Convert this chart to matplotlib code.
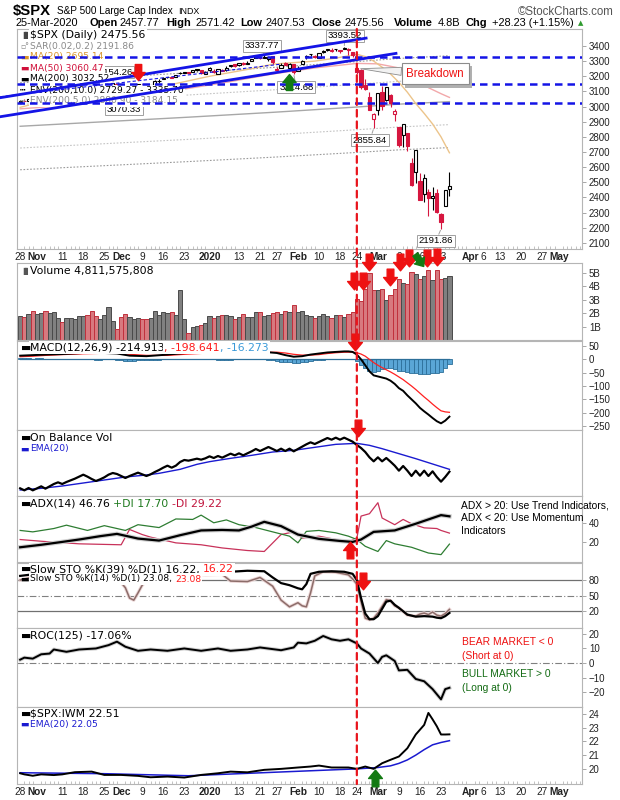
import matplotlib
matplotlib.use("Agg")
import matplotlib.pyplot as plt
import matplotlib.patheffects as pe
from matplotlib.patches import Rectangle, ConnectionPatch
from matplotlib.path import Path
from matplotlib.transforms import Affine2D
import numpy as np

plt.rcParams['font.family'] = ['Liberation Sans', 'DejaVu Sans']

# trading day index: 0 = 28-Oct-2019 ... 102 = 25-Mar-2020
opens = [3032.12, 3035.39, 3039.74, 3046.90, 3050.72, 3078.96, 3080.80, 3075.10, 3087.02, 3081.25,
         3080.33, 3089.28, 3084.18, 3090.75, 3107.92, 3117.91, 3127.45, 3114.66, 3108.49, 3111.41,
         3117.44, 3134.85, 3145.49, 3147.18, 3143.85, 3087.41, 3103.50, 3119.21, 3134.62, 3141.86,
         3135.36, 3135.75, 3141.23, 3166.65, 3183.63, 3195.40, 3195.21, 3192.32, 3223.33, 3226.05,
         3225.45, 3227.20, 3247.23, 3240.09, 3215.18, 3244.67, 3226.36, 3217.55, 3241.86, 3238.59,
         3266.03, 3281.81, 3271.13, 3285.35, 3282.27, 3302.97, 3323.66, 3321.03, 3330.02, 3315.77,
         3333.10, 3247.16, 3255.35, 3289.46, 3256.45, 3282.33, 3235.66, 3280.61, 3324.91, 3344.92,
         3335.54, 3318.28, 3365.87, 3370.50, 3365.90, 3378.08, 3369.04, 3380.39, 3380.45, 3360.50,
         3257.61, 3238.94, 3139.90, 3062.54, 2916.90, 2974.28, 3096.46, 3045.75, 3075.70, 2954.20,
         2863.89, 2813.48, 2825.60, 2630.86, 2569.99, 2508.59, 2425.66, 2436.50, 2393.48, 2431.94,
         2290.71, 2344.44, 2457.77]
highs = [3044.08, 3047.87, 3050.10, 3046.90, 3066.95, 3085.20, 3083.95, 3078.34, 3097.77, 3093.09,
         3088.33, 3102.61, 3098.06, 3098.20, 3120.46, 3124.17, 3127.64, 3118.97, 3110.11, 3112.87,
         3133.83, 3142.69, 3154.26, 3150.30, 3144.31, 3094.97, 3119.38, 3119.45, 3150.60, 3148.87,
         3142.12, 3143.98, 3176.28, 3182.68, 3197.71, 3198.22, 3198.48, 3205.48, 3225.65, 3227.78,
         3226.43, 3240.08, 3247.93, 3240.92, 3231.72, 3258.14, 3246.15, 3246.84, 3244.91, 3267.07,
         3275.58, 3282.99, 3288.13, 3294.25, 3298.66, 3317.11, 3329.88, 3329.79, 3337.77, 3326.88,
         3333.18, 3258.85, 3285.78, 3293.47, 3285.91, 3282.33, 3268.44, 3306.92, 3337.58, 3347.96,
         3341.42, 3352.26, 3375.63, 3381.47, 3385.09, 3380.69, 3375.01, 3393.52, 3389.15, 3360.76,
         3259.81, 3246.99, 3182.51, 3097.07, 2959.72, 3090.96, 3136.72, 3130.97, 3083.04, 2985.93,
         2863.89, 2882.59, 2825.60, 2660.95, 2711.33, 2562.98, 2553.93, 2453.57, 2466.97, 2453.01,
         2300.73, 2449.71, 2571.42]
lows = [3032.12, 3034.81, 3025.96, 3023.19, 3050.72, 3074.87, 3072.15, 3065.89, 3080.23, 3073.58,
        3075.82, 3084.73, 3078.80, 3083.26, 3104.60, 3112.06, 3113.47, 3091.41, 3094.55, 3099.26,
        3117.44, 3131.00, 3143.41, 3139.34, 3110.78, 3070.33, 3102.53, 3103.76, 3134.62, 3135.46,
        3126.09, 3133.21, 3138.47, 3156.51, 3183.63, 3191.03, 3191.14, 3192.32, 3216.03, 3222.30,
        3220.51, 3227.20, 3234.37, 3216.57, 3212.03, 3235.53, 3222.34, 3214.64, 3232.43, 3236.67,
        3263.67, 3260.86, 3268.43, 3277.19, 3280.69, 3302.82, 3318.86, 3316.61, 3320.04, 3301.87,
        3281.53, 3234.50, 3253.22, 3271.89, 3242.80, 3214.68, 3235.66, 3280.61, 3313.75, 3334.39,
        3322.12, 3317.77, 3352.72, 3369.72, 3360.52, 3366.15, 3355.61, 3378.83, 3341.02, 3328.45,
        3214.65, 3118.77, 3108.99, 2977.39, 2855.84, 2945.19, 2976.63, 3034.38, 2999.83, 2901.54,
        2734.43, 2734.00, 2707.22, 2478.86, 2492.37, 2380.94, 2367.04, 2280.52, 2319.78, 2295.56,
        2191.86, 2344.44, 2407.53]
closes = [3039.42, 3036.89, 3046.77, 3037.56, 3066.91, 3078.27, 3074.62, 3076.78, 3085.18, 3093.08,
          3087.01, 3091.84, 3094.04, 3096.63, 3120.46, 3122.03, 3120.18, 3108.46, 3103.54, 3110.29,
          3133.64, 3140.52, 3153.63, 3140.98, 3113.87, 3093.20, 3112.76, 3117.43, 3145.91, 3135.96,
          3132.52, 3141.63, 3168.57, 3168.80, 3191.45, 3192.52, 3191.14, 3205.37, 3221.22, 3224.01,
          3223.38, 3239.91, 3240.02, 3221.29, 3230.78, 3257.85, 3234.85, 3246.28, 3237.18, 3253.05,
          3274.70, 3265.35, 3288.13, 3283.15, 3289.29, 3316.81, 3329.62, 3320.79, 3321.75, 3325.54,
          3295.47, 3243.63, 3276.24, 3273.40, 3283.66, 3225.52, 3248.92, 3297.59, 3334.69, 3345.78,
          3327.71, 3352.09, 3357.75, 3379.45, 3373.94, 3380.16, 3370.29, 3386.15, 3373.23, 3337.75,
          3225.89, 3128.21, 3116.39, 2978.76, 2954.22, 3090.23, 3003.37, 3130.12, 3023.94, 2972.37,
          2746.56, 2882.23, 2741.38, 2480.64, 2711.02, 2386.13, 2529.19, 2398.10, 2409.39, 2304.92,
          2237.40, 2447.33, 2475.56]
prev_close = 3022.55

# volume, billions
volume = [1.82, 1.74, 1.97, 2.19, 1.92, 2.04, 2.19, 1.99, 2.11, 1.67,
          1.37, 1.67, 1.67, 1.59, 1.82, 1.82, 1.89, 2.19, 1.82, 1.59,
          1.89, 2.49, 1.44, 0.85, 1.74, 1.97, 1.74, 1.59, 1.67, 1.59,
          1.59, 1.67, 2.19, 1.89, 2.11, 1.99, 2.11, 1.89, 3.71, 1.59,
          0.55, 1.00, 1.07, 1.14, 1.29, 1.82, 1.67, 1.82, 1.89, 1.89,
          1.77, 1.57, 1.72, 1.92, 1.72, 1.72, 2.06, 2.06, 1.77, 1.87,
          1.99, 2.06, 1.92, 2.14, 2.06, 2.59, 2.06, 2.14, 1.84, 1.77,
          1.62, 1.77, 1.92, 1.77, 1.62, 1.84, 1.84, 1.69, 1.92, 2.06,
          3.06, 2.89, 3.78, 4.98, 3.73, 3.75, 3.78, 2.99, 3.36, 3.78,
          4.55, 4.23, 4.15, 5.05, 4.90, 4.55, 4.75, 5.22, 4.48, 5.22,
          4.55, 4.60, 4.81]

# price overlays (read at knots)
ma20_days = [0, 5, 10, 15, 20, 25, 30, 35, 40, 45, 50, 55, 60, 65, 70, 75, 80, 82, 84, 86, 88, 90, 92, 94, 96, 98, 100, 102]
ma20 = [2995, 3030, 3060, 3080, 3100, 3115, 3125, 3140, 3170, 3200, 3225, 3250, 3280, 3290, 3300, 3320, 3345, 3330,
        3300, 3260, 3215, 3160, 3095, 3020, 2955, 2885, 2800, 2695.14]
ma50_days = [0, 10, 20, 30, 40, 50, 60, 70, 80, 85, 90, 95, 97, 100, 102]
ma50 = [2985, 3005, 3040, 3080, 3120, 3165, 3215, 3255, 3285, 3282, 3255, 3190, 3125, 3085, 3060.47]
ma200_days = [0, 20, 40, 60, 80, 90, 102]
ma200 = [2870, 2900, 2930, 2962, 2997, 3016, 3032.52]

# MACD(12,26,9)
macd_days = [0, 3, 6, 10, 15, 20, 23, 26, 30, 35, 40, 45, 50, 55, 58, 61, 63, 65, 67, 69, 71, 73, 75, 77,
             78, 79, 80, 81, 82, 83, 84, 85, 86, 87, 88, 89, 90, 91, 92, 93, 94, 95, 96, 97, 98, 99, 100, 101, 102]
macd = [14, 16, 18, 20, 24, 24, 22, 14, 12, 18, 25, 27, 24, 27, 28, 24, 16, 10, 12, 18, 22, 26, 28, 30,
        30, 28, 18, 0, -22, -45, -60, -64, -68, -72, -80, -92, -108, -118, -135, -150, -165, -182, -195,
        -207, -220, -232, -240, -230, -214.9]
signal = [10, 12, 15, 18, 21, 23, 23, 19, 15, 15, 20, 24, 25, 25, 26, 27, 24, 19, 16, 16, 18, 22, 25, 27,
          27, 27, 25, 20, 12, 0, -12, -22, -31, -39, -47, -56, -66, -76, -88, -100, -113, -127, -141,
          -154, -168, -181, -193, -197, -198.6]
macd_hist = [4, 4, 4, 3, 4, 4, 3, 3, 2, 2,
             1, 1, 1, 1, 2, 2, 1, 0, -1, -1,
             0, 1, 2, -2, -4, -6, -6, -5, -4, -4,
             -4, -3, -2, -1, 0, 1, 2, 2, 2, 3,
             3, 2, 2, 1, 1, 0, 0, -2, -3, -3,
             -1, 0, 0, 1, 1, 2, 2, 2, 1, -1,
             -3, -6, -8, -10, -11, -12, -12, -10, -8, -6,
             -4, -2, -1, 0, 1, 1, 2, 2, 2, 0,
             -7, -20, -34, -45, -48, -42, -37, -33, -33, -36,
             -42, -42, -47, -50, -52, -55, -54, -53, -52, -51,
             -47, -33, -16]

# On Balance Volume (relative units) and its EMA(20)
obv = [23, 17, 24, 17, 23, 29, 22, 29, 36, 41,
       36, 42, 47, 52, 58, 64, 58, 51, 45, 50,
       56, 64, 69, 66, 60, 54, 60, 65, 70, 65,
       60, 65, 72, 78, 85, 91, 85, 91, 102, 108,
       106, 109, 112, 109, 113, 119, 114, 120, 115, 121,
       127, 122, 128, 122, 128, 134, 141, 135, 141, 147,
       141, 135, 142, 135, 142, 134, 141, 148, 155, 161,
       156, 162, 168, 174, 169, 175, 169, 175, 169, 163,
       153, 144, 132, 116, 104, 116, 104, 114, 103, 91,
       76, 90, 76, 60, 76, 61, 76, 60, 74, 57,
       43, 57, 73]
obv_ema_days = [0, 5, 10, 15, 20, 25, 30, 33, 38, 42, 45, 50, 55, 60, 65, 70, 75, 80, 83, 86, 90, 94, 98, 102]
obv_ema = [18, 23, 30, 39, 48, 57, 63, 68, 80, 95, 103, 113, 122, 132, 137, 146, 155, 158, 152, 142, 127, 112, 96, 80]

# ADX(14)
adx_days = [0, 5, 10, 14, 19, 23, 28, 33, 38, 43, 48, 52, 55, 58, 62, 66, 71, 76, 79, 81, 84, 89, 94, 98, 100, 102]
adx = [14.4, 17, 20, 22.5, 26, 28.4, 23.5, 21.4, 27, 32, 32.5, 32, 36, 41, 36.5, 27.7, 23.2, 21, 20, 22.5,
       30.5, 32, 39, 45, 48, 46.76]
pdi_days = [0, 3, 8, 11, 16, 20, 25, 28, 33, 37, 41, 43, 46, 49, 52, 56, 60, 64, 66, 68, 71, 75, 78, 80,
            82, 85, 87, 89, 93, 97, 100, 102]
pdi = [32, 30.5, 34, 37.5, 32, 37, 32, 38, 35, 44, 43.5, 48, 40, 43, 38, 35, 30.5, 26, 19, 31, 32, 29.5, 26,
       22.5, 15.4, 10, 21.4, 18, 14.4, 8.4, 6.7, 17.7]
mdi_days = [0, 5, 14, 24, 26, 29, 31, 37, 43, 48, 54, 58, 62, 65, 67, 71, 75, 78, 80, 81, 83, 85, 86, 89,
            91, 93, 96, 99, 100, 102]
mdi = [22.5, 20.7, 18, 17, 33, 27.7, 25, 19, 17, 13.7, 11, 10, 27.7, 30.5, 24, 26, 22.5, 20, 24, 47, 49.5,
       61, 45, 38, 43.5, 39, 34.7, 34, 32, 29.22]

# Slow stochastics
sto39_days = [0, 5, 10, 15, 20, 23, 25, 27, 29, 32, 35, 40, 45, 50, 54, 58, 60, 62, 64, 66, 67, 68, 69, 71,
              74, 77, 79, 80, 81, 82, 83, 84, 85, 87, 88, 89, 90, 92, 94, 96, 98, 99, 100, 101, 102]
sto39 = [88, 93, 95, 97, 94, 96, 82, 76, 84, 92, 97, 98, 97, 96, 98, 97, 85, 74, 70, 64, 62, 72, 92, 96,
         97, 96, 92, 80, 45, 15, 4, 4, 10, 38, 40, 32, 26, 13, 9, 10, 9, 7, 6, 10, 16.22]
sto14_days = [0, 5, 10, 15, 20, 23, 24, 25, 26, 27, 28, 29, 31, 35, 40, 44, 48, 50, 54, 57, 60, 62, 64, 66,
              67, 68, 69, 70, 72, 75, 78, 79, 80, 81, 82, 83, 84, 85, 87, 88, 89, 90, 92, 94, 95, 96, 97,
              98, 99, 100, 101, 102]
sto14 = [80, 90, 88, 92, 85, 88, 75, 65, 45, 41, 55, 70, 86, 95, 93, 90, 91, 78, 77, 85, 68, 41, 28, 36,
         30, 28, 55, 88, 96, 95, 90, 82, 72, 38, 6, 3, 6, 16, 42, 40, 30, 26, 12, 10, 14, 16, 13, 18, 12,
         10, 15, 23.08]

# ROC(125)
roc_days = [0, 1, 3, 5, 7, 8, 11, 14, 18, 21, 23, 25, 28, 31, 35, 39, 43, 47, 50, 54, 57, 62, 65, 66, 68,
            70, 72, 74, 76, 78, 80, 81, 83, 85, 86, 87, 89, 90, 92, 94, 96, 98, 100, 101, 102]
roc = [2.3, 3.7, 3, 6, 6.5, 9.3, 7.7, 9.3, 10, 12.3, 14.7, 11.2, 8.4, 9.3, 8.4, 10, 8.4, 10, 8.4, 9.3, 10.7,
       8.8, 10.7, 14, 13.5, 15.3, 18.6, 16.3, 15.3, 16.3, 13.5, 10, 6.5, 0, 4.2, 5.3, 1.4, -5.1, -4.7, -11,
       -12.6, -18, -25, -18, -17.06]

# $SPX:IWM ratio and EMA(20)
iwm_days = [0, 1, 3, 5, 8, 10, 13, 17, 20, 24, 28, 31, 35, 39, 43, 47, 50, 54, 58, 62, 66, 69, 71, 74, 78,
            80, 82, 84, 86, 88, 90, 92, 94, 96, 97, 98, 99, 100, 101, 102]
iwm = [19.68, 19.6, 19.5, 19.6, 19.55, 19.6, 19.76, 19.8, 19.56, 19.56, 19.49, 19.39, 19.44, 19.37, 19.56,
       19.68, 19.8, 19.75, 19.93, 20.0, 20.1, 20.17, 20.24, 20.1, 20.1, 20.0, 20.17, 20.0, 20.41, 20.66,
       20.9, 21.5, 22.5, 23.2, 24.07, 23.6, 23.1, 22.5, 22.5, 22.51]
iwm_ema_days = [0, 20, 40, 60, 80, 85, 88, 90, 92, 94, 96, 98, 100, 102]
iwm_ema = [19.72, 19.65, 19.5, 19.75, 20.0, 20.1, 20.22, 20.4, 20.65, 21.0, 21.4, 21.75, 21.92, 22.05]

tick_days = [0, 4, 10, 15, 20, 24, 29, 34, 39, 45, 52, 57, 61, 66, 71, 76, 80, 85, 90, 95, 100,
             107, 110, 114, 119, 124, 128]
tick_labels = ['28', 'Nov', '11', '18', '25', 'Dec', '9', '16', '23', '2020', '13', '21', '27', 'Feb',
               '10', '18', '24', 'Mar', '9', '16', '23', 'Apr', '6', '13', '20', '27', 'May']
bold_labels = {'Nov', 'Dec', '2020', 'Feb', 'Mar', 'Apr', 'May'}

days = np.arange(len(closes))
RED = '#d6163f'

W, H = 620, 800
fig = plt.figure(figsize=(W / 100, H / 100), dpi=100)
renderer = fig.canvas.get_renderer()


def panel(top, bottom, ylim):
    ax = fig.add_axes([17 / W, 1 - bottom / H, 565 / W, (bottom - top) / H])
    ax.set_xlim(-0.75, 133.5)
    ax.set_ylim(*ylim)
    for s in ax.spines.values():
        s.set_color('#b5b5b5')
        s.set_linewidth(0.8)
    ax.yaxis.tick_right()
    ax.tick_params(axis='y', direction='out', length=3, width=0.6, color='#999999',
                   labelsize=7, pad=2, labelcolor='#222222')
    ax.tick_params(axis='x', which='both', bottom=False, labelbottom=False)
    return ax


def date_axis(ax):
    ax.set_xticks(tick_days)
    ax.set_xticklabels(tick_labels)
    ax.set_xticks(np.arange(0, 134), minor=True)
    ax.tick_params(axis='x', which='major', bottom=True, labelbottom=True, length=0, pad=2.5,
                   labelsize=7.3, labelcolor='#222222')
    ax.tick_params(axis='x', which='minor', bottom=True, direction='in', length=2.2, width=0.5,
                   color='#aaaaaa')
    for lab in ax.get_xticklabels():
        if lab.get_text() in bold_labels:
            lab.set_fontweight('bold')


def legend(ax, dy, parts, size=7.8, dx=13, mark=None, mark_size=None, box=True):
    if mark is not None:
        ax.annotate(mark[0], xy=(0, 1), xycoords='axes fraction', xytext=(3, dy),
                    textcoords='offset pixels', ha='left', va='center', color=mark[1],
                    fontsize=mark_size or size, family='DejaVu Sans', zorder=6.5,
                    annotation_clip=False)
    x = dx
    for txt, col in parts:
        t = ax.annotate(txt, xy=(0, 1), xycoords='axes fraction', xytext=(x, dy),
                        textcoords='offset pixels', ha='left', va='center', color=col,
                        fontsize=size, family='DejaVu Sans', zorder=6, annotation_clip=False,
                        bbox=dict(boxstyle='square,pad=0.12', fc='white', ec='none') if box else None)
        x += t.get_window_extent(renderer).width


def note(ax, dx, dy, txt, col, size=7.4):
    ax.annotate(txt, xy=(1, 1), xycoords='axes fraction', xytext=(dx, dy), textcoords='offset pixels',
                ha='left', va='center', color=col, fontsize=size, zorder=6, annotation_clip=False)


down_arrow = Path([(-0.3, 0.75), (0.3, 0.75), (0.3, 0.0), (0.62, 0.0), (0.0, -0.75), (-0.62, 0.0),
                   (-0.3, 0.0), (-0.3, 0.75)],
                  [Path.MOVETO] + [Path.LINETO] * 6 + [Path.CLOSEPOLY])
up_arrow = Path(down_arrow.vertices * np.array([1, -1]), down_arrow.codes)
tilt_arrow = Affine2D().rotate_deg(35).transform_path(down_arrow)


def arrow(ax, x, y, path, color, size=12):
    ax.plot([x], [y], marker=path, markersize=size, color=color, markeredgecolor=color,
            linestyle='none', clip_on=False, zorder=9)


# ---------------- header ----------------
def px(x, y):
    return x / W, 1 - y / H


fig.text(*px(13, 11), '\\$SPX', fontsize=10.7, fontweight='bold', va='center')
title = fig.text(*px(57, 11.5), 'S&P 500 Large Cap Index', fontsize=7.2, va='center')
title_end = title.get_window_extent(renderer).x1
fig.text((title_end + 5) / W, 1 - 11.5 / H, 'INDX', fontsize=6.4, va='center')
fig.text(*px(614, 12), '\u00a9StockCharts.com', fontsize=8.3, va='center', ha='right', color='#555555')
head = [(15, '25-Mar-2020', 'normal'), (89, 'Open', 'bold'), (119, '2457.77', 'normal'),
        (166, 'High', 'bold'), (195, '2571.42', 'normal'), (240, 'Low', 'bold'),
        (265, '2407.53', 'normal'), (312, 'Close', 'bold'), (345, '2475.56', 'normal'),
        (394, 'Volume', 'bold'), (438, '4.8B', 'normal'), (466, 'Chg', 'bold'),
        (492, '+28.23 (+1.15%)', 'normal')]
for x, txt, wt in head:
    fig.text(*px(x, 22.5), txt, fontsize=7.9, fontweight=wt, va='center')
fig.text(*px(578, 23), '\u25b2', fontsize=5, va='center', color='#2e9a2e', family='DejaVu Sans')

# ---------------- price panel ----------------
ax_p = panel(29, 249, (2060, 3512))
ax_p.set_yticks(np.arange(2100, 3401, 100))
date_axis(ax_p)

env_base = np.array(ma200)
ax_p.plot(ma200_days, env_base * 1.10, color='#9a9a9a', lw=0.8, ls=(0, (1.5, 1.5)), zorder=2)
ax_p.plot(ma200_days, env_base * 0.90, color='#9a9a9a', lw=0.8, ls=(0, (1.5, 1.5)), zorder=2)
ax_p.plot(ma200_days, env_base * 1.05, color='#c4c4c4', lw=0.8, ls=(0, (1.5, 1.5)), zorder=2)
ax_p.plot(ma200_days, env_base * 0.95, color='#c4c4c4', lw=0.8, ls=(0, (1.5, 1.5)), zorder=2)
ax_p.plot(ma200_days, ma200, color='#a8a8a8', lw=1.0, zorder=2)
ax_p.plot(ma50_days, ma50, color='#f2a8aa', lw=1.0, zorder=2)
ax_p.plot(ma20_days, ma20, color='#ecc48a', lw=1.0, zorder=2)

for i in days:
    o, h, l, c = opens[i], highs[i], lows[i], closes[i]
    pc = closes[i - 1] if i > 0 else prev_close
    col = RED if c < pc else 'black'
    ax_p.vlines(i, l, h, color=col, lw=0.8, zorder=3)
    body = max(abs(c - o), 2.0)
    ax_p.add_patch(Rectangle((i - 0.38, min(o, c)), 0.76, body, facecolor=col if c < o else 'white',
                             edgecolor=col, lw=0.8, zorder=3.5))

tags = [('3337.77', 58, 3337.77, 57.5, 3400), ('3393.52', 77, 3393.52, 77.2, 3466),
        ('3154.26', 22, 3154.26, 22.6, 3228), ('3070.33', 25, 3070.33, 24.7, 2984),
        ('3214.68', 65, 3214.68, 65.6, 3129), ('2855.84', 84, 2855.84, 83.1, 2779),
        ('2191.86', 100, 2191.86, 98.8, 2113)]
for txt, x, y, tx, ty in tags:
    ax_p.annotate(txt, xy=(x, y), xytext=(tx, ty), ha='center', va='center', fontsize=6.8,
                  bbox=dict(boxstyle='square,pad=0.2', fc='white', ec='#a0a0a0', lw=0.7),
                  arrowprops=dict(arrowstyle='-', color='#a0a0a0', lw=0.7, shrinkA=0, shrinkB=1),
                  zorder=5)

legend(ax_p, -6.5, [('\\$SPX (Daily) 2475.56', 'black')], size=7.8, mark=('\u2590\u258c', '#444444'),
       mark_size=5)
legend(ax_p, -17.5, [('SAR(0.02,0.2) 2191.86', '#8a8a8a')], size=6.6, mark=('\u25ab\u00b0', '#8a8a8a'),
       mark_size=5.5)
legend(ax_p, -28, [('MA(20) 2695.14', '#d9952b')], size=6.6, mark=('\u25ac', '#d9952b'))
legend(ax_p, -39, [('MA(50) 3060.47', '#d0103a')], size=6.6, mark=('\u25ac', '#d0103a'))
legend(ax_p, -50, [('MA(200) 3032.52', 'black')], size=6.6, mark=('\u25ac', 'black'))
legend(ax_p, -61.5, [('ENV(200,10.0) 2729.27 - 3335.70', 'black')], size=6.6, mark=('\u2505', 'black'))
legend(ax_p, -72, [('ENV(200,5.0) 2880.90 - 3184.15', '#8a8a8a')], size=6.6, mark=('\u2505', '#8a8a8a'))

# trend channel and levels drawn on the chart
ax_p.plot([-4.75, 82.2], [3058.5, 3451.8], color='#1414e6', lw=2.0, clip_on=False, zorder=7)
ax_p.plot([-4.75, 89.3], [2933, 3351], color='#1414e6', lw=2.0, clip_on=False, zorder=7)
ax_p.plot([-4.75, 62], [3065, 3280], color='#1414e6', lw=0.8, ls=(0, (3, 2)), clip_on=False, zorder=7)
for lvl in (3330, 3147, 3025):
    ax_p.axhline(lvl, color='#1414e6', lw=1.8, ls=(0, (3, 2)), zorder=7)

brk = ax_p.annotate('Breakdown', xy=(80.9, 3250), xytext=(98.6, 3218), ha='center', va='center',
                    fontsize=8.3, color='#ee1111',
                    bbox=dict(boxstyle='square,pad=0.4', fc='white', ec='#8c8c8c', lw=0.8),
                    arrowprops=dict(arrowstyle='wedge,tail_width=0.7', fc='#f2f2f2', ec='#8c8c8c',
                                    lw=0.6, shrinkA=0, shrinkB=0),
                    zorder=8)
brk.get_bbox_patch().set_path_effects([pe.SimplePatchShadow(offset=(2.5, -2.5), shadow_rgbFace='#b0b0b0',
                                                            alpha=1.0), pe.Normal()])

arrow(ax_p, 27.9, 3225, down_arrow, '#ee1111', 11.5)
arrow(ax_p, 63.8, 3159, up_arrow, '#137a13', 11.5)

# ---------------- volume ----------------
ax_v = panel(263, 340, (0, 5.75))
ax_v.set_yticks([1, 2, 3, 4, 5])
ax_v.set_yticklabels(['1B', '2B', '3B', '4B', '5B'])
prev = [prev_close] + closes[:-1]
down = [c < p for c, p in zip(closes, prev)]
ax_v.bar(days, volume, width=1.0, color=['#d8797f' if d else '#808080' for d in down],
         edgecolor=['#c0303c' if d else '#4a4a4a' for d in down], linewidth=0.7, zorder=2)
legend(ax_v, -8, [('Volume 4,811,575,808', 'black')], mark=('\u2590\u258c', '#555555'), mark_size=5)
for x, y in [(79.3, 4.44), (81.5, 4.44), (82.9, 5.8), (87.9, 4.7), (90.3, 5.8), (92.4, 6.1),
             (96.7, 6.1), (99.0, 6.2)]:
    arrow(ax_v, x, y, down_arrow, '#ee1111', 12)
arrow(ax_v, 94.8, 5.95, tilt_arrow, '#137a13', 11)

# ---------------- MACD ----------------
ax_m = panel(341, 430, (-265, 69))
ax_m.set_yticks([50, 0, -50, -100, -150, -200, -250])
ax_m.bar(days, macd_hist, width=1.0, color='#5aa6d6', edgecolor='#2c6f99', linewidth=0.6, zorder=2)
ax_m.plot([days[0], days[-1]], [0, 0], color='#2c6f99', lw=0.9, zorder=2)
ax_m.plot(macd_days, signal, color='#ff2020', lw=0.9, zorder=3)
ax_m.plot(macd_days, macd, color='black', lw=1.4, zorder=3)
legend(ax_m, -6.5, [('MACD(12,26,9) -214.913', 'black'), (', -198.641', '#ff1a1a'),
                    (', -16.273', '#3b9ad9')], mark=('\u25ac', 'black'))
arrow(ax_m, 79.6, 67, down_arrow, '#ee1111', 12)

# ---------------- OBV ----------------
ax_o = panel(430, 496, (0, 198))
ax_o.set_yticks([])
ax_o.plot(obv_ema_days, obv_ema, color='#1a1ad0', lw=1.0, zorder=2)
ax_o.plot(days, obv, color='black', lw=1.6, zorder=3)
legend(ax_o, -7.7, [('On Balance Vol', 'black')], mark=('\u25ac', 'black'), box=False)
legend(ax_o, -19, [('EMA(20)', '#1a1ad0')], size=6.6, mark=('\u25ac', '#1a1ad0'), box=False)
arrow(ax_o, 80.3, 203, down_arrow, '#ee1111', 12)

# ---------------- ADX ----------------
ax_a = panel(496, 562, (-1, 68))
ax_a.set_yticks([20, 40])
ax_a.plot(mdi_days, mdi, color='#c8325a', lw=0.9, zorder=2)
ax_a.plot(pdi_days, pdi, color='#2e7d32', lw=0.9, zorder=2)
ax_a.plot(adx_days, adx, color='black', lw=1.6, zorder=3,
          path_effects=[pe.Stroke(linewidth=3.2, foreground='#cfcfcf'), pe.Normal()])
legend(ax_a, -8, [('ADX(14) 46.76 ', 'black'), ('+DI 17.70 ', '#1f7a1f'), ('-DI 29.22', '#c0143c')],
       mark=('\u25ac', 'black'), box=False)
note(ax_a, -121, -9, 'ADX > 20: Use Trend Indicators,', 'black')
note(ax_a, -121, -22, 'ADX < 20: Use Momentum', 'black')
note(ax_a, -121, -34.5, 'Indicators', 'black')
arrow(ax_a, 78.3, 11.4, up_arrow, '#ee1111', 12)

# ---------------- Slow STO ----------------
ax_s = panel(563, 628, (-13, 113))
ax_s.set_yticks([20, 50, 80])
ax_s.axhline(80, color='#707070', lw=0.9, zorder=1)
ax_s.axhline(20, color='#707070', lw=0.9, zorder=1)
ax_s.axhline(50, color='#808080', lw=0.8, ls=(0, (6, 2, 1, 2)), zorder=1)
ax_s.plot(sto14_days, sto14, color='#8c6d6a', lw=1.1, zorder=2,
          path_effects=[pe.Stroke(linewidth=2.4, foreground='#ecd6d6'), pe.Normal()])
ax_s.plot(sto39_days, sto39, color='black', lw=1.6, zorder=3)
legend(ax_s, -6.3, [('Slow STO %K(39) %D(1) 16.22, ', 'black'), ('16.22', '#ff1a1a')],
       mark=('\u25ac', 'black'))
legend(ax_s, -16, [('Slow STO %K(14) %D(1) 23.08, ', 'black'), ('23.08', '#ff1a1a')], size=6.6,
       mark=('\u25ac', 'black'))
arrow(ax_s, 81.5, 79, down_arrow, '#ee1111', 12)

# ---------------- ROC ----------------
ax_r = panel(628, 707, (-30.3, 24.1))
ax_r.set_yticks([-20, -10, 0, 10, 20])
ax_r.axhline(0, color='#808080', lw=0.8, ls=(0, (6, 2, 1, 2)), zorder=1)
ax_r.plot(roc_days, roc, color='black', lw=1.4, zorder=3,
          path_effects=[pe.Stroke(linewidth=2.8, foreground='#d0d0d0'), pe.Normal()])
legend(ax_r, -7.7, [('ROC(125) -17.06%', 'black')], mark=('\u25ac', 'black'), box=False)
note(ax_r, -120, -14, 'BEAR MARKET < 0', '#ee1111')
note(ax_r, -120, -28, '(Short at 0)', '#ee1111')
note(ax_r, -120, -46, 'BULL MARKET > 0', '#136b13')
note(ax_r, -120, -60, '(Long at 0)', '#136b13')

# ---------------- $SPX:IWM ----------------
ax_i = panel(707, 784, (18.9, 24.5))
ax_i.set_yticks([20, 21, 22, 23, 24])
date_axis(ax_i)
ax_i.plot(iwm_ema_days, iwm_ema, color='#1a1ad0', lw=1.1, zorder=2)
ax_i.plot(iwm_days, iwm, color='black', lw=1.4, zorder=3)
legend(ax_i, -7, [('\\$SPX:IWM 22.51', 'black')], mark=('\u25ac', 'black'), box=False)
legend(ax_i, -17, [('EMA(20) 22.05', '#1a1ad0')], size=6.6, mark=('\u25ac', '#1a1ad0'), box=False)
arrow(ax_i, 84.3, 19.34, up_arrow, '#137a13', 12)

# red dashed marker line through all panels (24-Feb)
fig.add_artist(ConnectionPatch(xyA=(80, ax_p.get_ylim()[1]), coordsA=ax_p.transData,
                               xyB=(80, ax_i.get_ylim()[0]), coordsB=ax_i.transData,
                               color='#e8141c', lw=1.6, linestyle=(0, (3, 2.2)), zorder=10))

fig.savefig('out.png', dpi=100)
